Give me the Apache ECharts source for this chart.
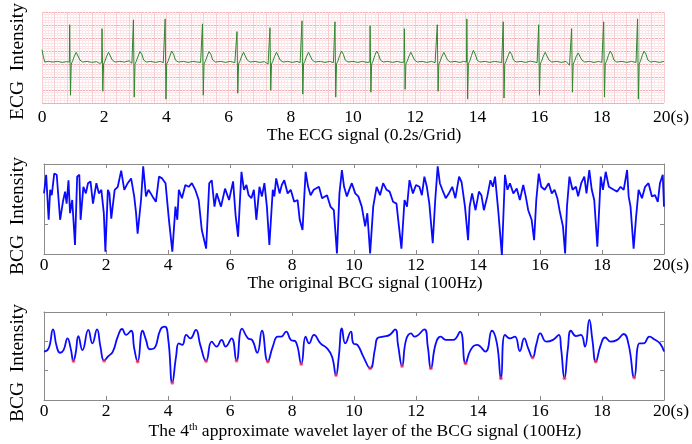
<!DOCTYPE html>
<html><head><meta charset="utf-8">
<script src="https://cdn.jsdelivr.net/npm/echarts@6/dist/echarts.min.js"></script>
<style>html,body{margin:0;padding:0;background:#fff}#c{width:692px;height:444px}</style>
</head><body><div id="c"></div>
<script>
const xTickValues = [0,2,4,6,8,10,12,14,16,18,20];
const titles = ['The ECG signal (0.2s/Grid)', 'The original BCG signal (100Hz)', 'The 4th approximate wavelet layer of the BCG signal (100Hz)'];
const yNames = ['ECG  Intensity', 'BCG  Intensity', 'BCG  Intensity'];

const ecgSignal = [
[0,4.1],[0.04,3.6],[0.09,3.15],[0.2,3.2],[0.35,3.15],[0.5,3.2],[0.65,3.12],[0.78,3.18],
[0.84,3.05],[0.88,3.15],[0.89,6.02],[0.915,0.60],[0.94,3.0],[0.98,3.2],[1.04,3.6],[1.10,3.9],[1.16,3.75],[1.22,3.3],[1.31,3.15],
[1.45,3.2],[1.6,3.12],[1.75,3.18],[1.85,3.05],
[1.88,2.9],[1.92,3.1],[1.93,5.72],[1.955,0.90],[1.98,3.0],[2.02,3.2],[2.08,3.6],[2.14,3.9],[2.20,3.75],[2.26,3.3],[2.35,3.15],
[2.5,3.2],[2.65,3.15],[2.8,3.25],
[2.89,3.05],[2.93,3.2],[2.94,6.40],[2.965,0.45],[2.99,3.0],[3.03,3.2],[3.09,3.6],[3.15,3.95],[3.21,3.75],[3.27,3.3],[3.36,3.15],
[3.5,3.2],[3.65,3.12],[3.8,3.2],[3.9,3.1],
[3.91,3.05],[3.95,3.15],[3.96,6.47],[3.985,0.30],[4.01,3.0],[4.05,3.2],[4.11,3.6],[4.17,4.0],[4.23,3.75],[4.29,3.3],[4.38,3.15],
[4.55,3.2],[4.7,3.12],[4.85,3.2],[5.0,3.15],[5.1,3.12],
[5.11,3.05],[5.15,3.15],[5.16,6.09],[5.185,0.60],[5.21,3.0],[5.25,3.2],[5.31,3.6],[5.37,3.95],[5.43,3.75],[5.49,3.3],[5.58,3.15],
[5.75,3.2],[5.9,3.12],[6.05,3.2],[6.2,3.1],
[6.22,3.05],[6.26,3.15],[6.27,5.49],[6.295,0.75],[6.32,3.0],[6.36,3.2],[6.42,3.6],[6.48,3.9],[6.54,3.75],[6.60,3.3],[6.69,3.15],
[6.85,3.2],[7.0,3.12],[7.15,3.18],[7.27,3.0],
[7.29,2.95],[7.32,3.1],[7.33,5.79],[7.355,0.98],[7.38,3.0],[7.42,3.2],[7.48,3.6],[7.54,3.9],[7.60,3.75],[7.66,3.3],[7.75,3.15],
[7.9,3.2],[8.05,3.12],[8.2,3.2],[8.3,3.1],
[8.31,3.05],[8.35,3.15],[8.36,6.32],[8.385,0.68],[8.41,3.0],[8.45,3.2],[8.51,3.6],[8.57,3.9],[8.63,3.75],[8.69,3.3],[8.78,3.15],
[8.95,3.2],[9.1,3.12],[9.25,3.2],[9.37,3.1],
[9.38,3.0],[9.41,3.15],[9.42,6.25],[9.445,0.45],[9.47,3.0],[9.51,3.2],[9.57,3.65],[9.63,4.0],[9.69,3.75],[9.75,3.3],[9.84,3.15],
[10.0,3.2],[10.15,3.12],[10.3,3.2],[10.45,3.12],
[10.50,3.05],[10.54,3.15],[10.55,5.94],[10.575,0.83],[10.60,3.0],[10.64,3.2],[10.70,3.65],[10.76,4.0],[10.82,3.75],[10.88,3.3],[10.97,3.15],
[11.12,3.2],[11.27,3.12],[11.42,3.2],[11.55,3.12],
[11.60,3.05],[11.64,3.15],[11.65,5.72],[11.675,1.05],[11.70,3.0],[11.74,3.2],[11.80,3.6],[11.86,3.9],[11.92,3.75],[11.98,3.3],[12.07,3.15],
[12.22,3.2],[12.37,3.12],[12.52,3.2],[12.64,3.1],
[12.66,3.05],[12.70,3.15],[12.71,6.02],[12.735,0.90],[12.76,3.0],[12.80,3.2],[12.86,3.6],[12.92,3.9],[12.98,3.75],[13.04,3.3],[13.13,3.15],
[13.28,3.2],[13.43,3.12],[13.56,3.2],
[13.61,3.05],[13.65,3.15],[13.66,6.47],[13.685,0.30],[13.71,3.0],[13.75,3.2],[13.81,3.65],[13.87,4.05],[13.93,3.75],[13.99,3.3],[14.08,3.15],
[14.25,3.2],[14.4,3.12],[14.55,3.2],[14.7,3.15],[14.78,3.1],
[14.79,3.05],[14.82,3.15],[14.83,6.25],[14.855,0.38],[14.88,3.0],[14.92,3.2],[14.98,3.6],[15.04,3.95],[15.10,3.75],[15.16,3.3],[15.25,3.15],
[15.4,3.2],[15.55,3.12],[15.7,3.22],[15.85,3.15],[15.92,3.1],
[15.93,3.05],[15.96,3.15],[15.97,6.02],[15.995,0.60],[16.02,3.0],[16.06,3.2],[16.12,3.6],[16.18,3.9],[16.24,3.75],[16.30,3.3],[16.39,3.15],
[16.55,3.2],[16.7,3.12],[16.85,3.2],[16.96,2.9],
[16.99,2.85],[17.02,3.05],[17.03,5.72],[17.055,0.83],[17.08,3.0],[17.12,3.2],[17.18,3.6],[17.24,3.85],[17.30,3.7],[17.36,3.3],[17.45,3.15],
[17.6,3.2],[17.75,3.12],[17.9,3.2],[18.0,3.12],
[18.02,3.05],[18.05,3.15],[18.06,6.25],[18.085,0.45],[18.11,3.0],[18.15,3.2],[18.21,3.65],[18.27,4.0],[18.33,3.75],[18.39,3.3],[18.48,3.15],
[18.65,3.2],[18.8,3.12],[18.95,3.2],[19.1,3.12],
[19.11,3.05],[19.14,3.15],[19.15,6.47],[19.175,0.30],[19.20,3.0],[19.24,3.2],[19.30,3.65],[19.36,4.0],[19.42,3.75],[19.48,3.3],[19.57,3.15],
[19.7,3.2],[19.85,3.12],[20.0,3.2]
];

const bcgSignal = [
[0,0.51],[0.07,0.82],[0.15,0.07],[0.20,0.57],[0.25,0.48],[0.33,0.84],[0.41,0.82],[0.52,0.07],[0.61,0.37],[0.68,0.54],[0.73,0.34],[0.79,0.73],[0.84,0.18],[0.91,0.40],[1.00,-0.35],[1.07,0.79],[1.14,0.82],[1.18,0.07],[1.27,0.62],[1.35,0.51],[1.42,0.68],[1.50,0.71],[1.58,0.34],[1.69,0.68],[1.77,0.51],[1.85,0.57],[1.93,0.18],[1.98,-0.46],[2.06,0.57],[2.11,0.51],[2.17,0.09],[2.28,0.57],[2.38,0.62],[2.49,0.89],[2.59,0.57],[2.70,0.68],[2.81,0.76],[2.91,0.46],[2.97,0.18],[3.02,-0.16],[3.13,0.40],[3.20,0.96],[3.29,0.46],[3.37,0.57],[3.50,0.46],[3.61,0.37],[3.71,0.79],[3.81,0.76],[3.92,0.68],[4.03,0.07],[4.14,-0.46],[4.24,0.29],[4.30,0.07],[4.35,0.57],[4.45,0.43],[4.56,0.65],[4.67,0.62],[4.77,0.68],[4.88,0.57],[4.99,0.40],[5.09,-0.10],[5.23,-0.41],[5.33,0.68],[5.41,0.73],[5.50,0.29],[5.57,0.51],[5.71,0.29],[5.84,0.59],[5.97,0.40],[6.10,0.71],[6.18,0.15],[6.26,-0.21],[6.37,0.87],[6.45,0.57],[6.53,0.65],[6.60,0.48],[6.69,0.43],[6.77,0.57],[6.85,0.07],[6.95,0.62],[7.03,0.46],[7.11,0.68],[7.19,0.29],[7.27,-0.35],[7.38,0.57],[7.43,0.46],[7.49,0.76],[7.60,0.51],[7.67,0.65],[7.75,0.73],[7.86,0.51],[7.96,0.57],[8.07,0.37],[8.18,0.40],[8.25,0.07],[8.34,-0.10],[8.39,0.40],[8.44,0.87],[8.52,0.62],[8.60,0.48],[8.70,0.57],[8.87,0.62],[8.97,0.43],[9.13,0.48],[9.24,0.29],[9.35,0.23],[9.45,-0.49],[9.53,0.51],[9.61,0.90],[9.68,0.62],[9.77,0.46],[9.86,0.59],[9.93,0.68],[10.04,0.51],[10.14,0.46],[10.25,0.29],[10.36,-0.04],[10.43,0.18],[10.52,-0.49],[10.62,0.29],[10.73,0.62],[10.84,0.48],[10.94,0.68],[11.05,0.57],[11.15,0.54],[11.26,0.37],[11.37,0.34],[11.45,-0.04],[11.53,-0.41],[11.63,0.40],[11.71,0.29],[11.79,0.73],[11.90,0.51],[12.00,0.65],[12.11,0.62],[12.19,0.48],[12.27,0.79],[12.35,0.62],[12.43,0.34],[12.54,-0.32],[12.62,0.40],[12.70,0.96],[12.77,0.68],[12.85,0.57],[12.96,0.43],[13.06,0.51],[13.17,0.62],[13.27,0.43],[13.39,0.79],[13.47,0.70],[13.58,0.29],[13.68,-0.27],[13.73,0.29],[13.81,0.51],[13.92,0.23],[14.03,0.54],[14.11,0.48],[14.19,0.23],[14.30,0.46],[14.40,0.73],[14.48,0.62],[14.55,0.79],[14.66,0.18],[14.77,-0.52],[14.87,0.82],[14.95,0.57],[15.03,0.68],[15.14,0.51],[15.25,0.59],[15.35,0.40],[15.46,0.65],[15.54,0.46],[15.62,0.23],[15.73,0.07],[15.81,-0.27],[15.88,0.40],[15.96,0.84],[16.04,0.62],[16.15,0.57],[16.28,0.68],[16.38,0.51],[16.47,0.57],[16.56,0.43],[16.63,0.23],[16.74,-0.04],[16.81,-0.49],[16.87,0.29],[16.95,0.79],[17.05,0.57],[17.16,0.62],[17.23,0.46],[17.33,0.68],[17.43,0.79],[17.50,0.51],[17.59,0.90],[17.67,0.57],[17.75,0.40],[17.85,-0.38],[17.96,0.79],[18.03,0.57],[18.12,0.87],[18.22,0.62],[18.38,0.57],[18.49,0.54],[18.60,0.62],[18.70,0.57],[18.81,0.90],[18.86,0.46],[18.92,0.29],[19.02,-0.41],[19.10,0.12],[19.18,0.57],[19.29,0.43],[19.39,0.62],[19.50,0.68],[19.61,0.46],[19.71,0.48],[19.80,0.37],[19.87,0.68],[19.96,0.82],[20.00,0.29]
];

const waveletSignal = [
[0,1.65],[0.15,1.76],[0.29,2.41],[0.41,1.82],[0.52,1.61],[0.63,1.70],[0.76,2.10],[0.86,1.76],[0.95,1.33],[1.02,1.59],[1.11,2.18],[1.24,1.70],[1.43,2.39],[1.56,1.93],[1.71,2.41],[1.82,1.82],[1.94,1.34],[2.06,1.48],[2.22,1.65],[2.38,2.16],[2.52,2.42],[2.65,2.22],[2.81,2.36],[2.91,1.76],[3.02,1.31],[3.18,2.36],[3.29,2.05],[3.41,1.73],[3.55,1.76],[3.76,2.41],[3.90,2.50],[4.01,2.05],[4.14,0.59],[4.26,1.48],[4.35,1.93],[4.46,1.88],[4.59,2.22],[4.72,2.10],[4.90,2.39],[5.04,1.88],[5.23,1.33],[5.41,1.99],[5.57,1.82],[5.73,2.05],[5.86,1.82],[6.05,2.10],[6.21,1.34],[6.39,2.43],[6.58,2.10],[6.71,2.05],[6.88,1.61],[7.03,2.36],[7.22,1.31],[7.38,1.82],[7.54,2.16],[7.65,2.16],[7.81,2.33],[7.96,2.05],[8.12,1.99],[8.30,1.23],[8.44,2.16],[8.55,1.93],[8.71,2.22],[8.92,1.93],[9.13,1.76],[9.29,1.48],[9.42,0.85],[9.51,1.48],[9.61,2.44],[9.72,1.93],[9.90,2.33],[9.98,1.93],[10.11,1.88],[10.30,1.48],[10.52,1.08],[10.68,1.76],[10.75,2.10],[10.94,2.16],[11.15,2.22],[11.33,2.41],[11.42,1.88],[11.55,1.16],[11.68,2.05],[11.84,2.27],[11.95,2.16],[12.27,2.41],[12.38,1.82],[12.48,1.08],[12.64,1.93],[12.80,2.16],[12.96,2.05],[13.20,2.05],[13.42,2.33],[13.60,1.25],[13.76,1.70],[13.97,1.88],[14.24,1.65],[14.45,2.36],[14.61,1.93],[14.74,0.74],[14.87,2.22],[15.03,2.10],[15.19,2.16],[15.35,1.67],[15.49,2.10],[15.62,1.76],[15.76,1.45],[15.89,1.93],[16.01,2.27],[16.20,1.99],[16.42,2.05],[16.61,2.22],[16.68,1.76],[16.79,0.74],[16.90,1.76],[17.00,2.36],[17.16,2.18],[17.32,2.22],[17.45,1.82],[17.59,2.73],[17.69,2.05],[17.80,1.31],[17.96,1.88],[18.10,2.13],[18.28,1.99],[18.49,2.05],[18.70,2.25],[18.86,1.88],[19.04,0.77],[19.21,1.93],[19.34,1.93],[19.53,2.16],[19.71,2.05],[19.87,1.93],[20.00,1.65]
];

const waveletMinima = [
[0.95,1.33],[1.94,1.34],[3.02,1.31],[4.14,0.59],[5.23,1.33],[6.21,1.34],[7.22,1.31],[8.30,1.23],[9.42,0.85],[10.52,1.08],[11.55,1.16],[12.48,1.08],[13.60,1.25],[14.74,0.74],[15.76,1.45],[16.79,0.74],[17.80,1.31],[19.04,0.77]
];

const FONT = "'Liberation Serif','Times New Roman',serif";
const GRAY = '#8a8a8a';
const labelFmt = v => (v === 20 ? '{s|20(s)}' : String(v));
const labelStyle = (margin) => ({
  show: true, margin: margin, fontFamily: FONT, fontSize: 17.5, color: '#000',
  customValues: xTickValues, formatter: labelFmt,
  rich: { s: { fontFamily: FONT, fontSize: 17.5, color: '#000', padding: [0,0,0,14] } }
});
const nameStyle = { fontFamily: FONT, fontSize: 17.5, color: '#000', padding: [0,0,0,22] };

function boxX(grid, pos, withLabel, margin, name, gap, nameRich) {
  const ax = {
    type: 'value', gridIndex: grid, position: pos, min: 0, max: 20, interval: 2,
    axisLine: { show: true, onZero: false, lineStyle: { color: GRAY, width: 1 } },
    axisTick: { show: true, inside: true, length: 4, lineStyle: { color: GRAY } },
    axisLabel: withLabel ? labelStyle(margin) : { show: false },
    splitLine: { show: false }
  };
  if (name) {
    ax.name = name; ax.nameLocation = 'middle'; ax.nameGap = gap;
    ax.nameTextStyle = Object.assign({}, nameStyle, nameRich ? { rich: nameRich } : {});
  }
  return ax;
}
function boxY(grid, pos, min, max, ticks, name) {
  const ax = {
    type: 'value', gridIndex: grid, position: pos, min: min, max: max,
    axisLine: { show: true, onZero: false, lineStyle: { color: GRAY, width: 1 } },
    axisTick: { show: true, inside: true, length: 4, customValues: ticks, lineStyle: { color: GRAY } },
    axisLabel: { show: false }, splitLine: { show: false }
  };
  if (name) {
    ax.name = name; ax.nameLocation = 'middle'; ax.nameGap = 16;
    ax.nameTextStyle = { fontFamily: FONT, fontSize: 19.5, color: '#000', padding: [0, 14, 0, 0] };
  }
  return ax;
}

const supRich = {
  n: { fontFamily: FONT, fontSize: 17.5, color: '#000' },
  sup: { fontFamily: FONT, fontSize: 11, color: '#000', verticalAlign: 'top' }
};

const option = {
  animation: false,
  backgroundColor: '#fff',
  grid: [
    { left: 36, right: 27, top: 10, height: 93 },
    { left: 37, right: 28, top: 164, height: 90 },
    { left: 37, right: 28, top: 312, height: 88 }
  ],
  xAxis: [
    { type: 'value', gridIndex: 0, position: 'bottom', min: 0, max: 20, interval: 2,
      axisLine: { show: false }, axisTick: { show: false }, splitLine: { show: false },
      axisLabel: labelStyle(5),
      name: titles[0], nameLocation: 'middle', nameGap: 19, nameTextStyle: nameStyle },
    { type: 'value', gridIndex: 0, position: 'top', min: 0, max: 20, interval: 0.4,
      axisLine: { show: false }, axisTick: { show: false }, axisLabel: { show: false },
      splitLine: { show: true, lineStyle: { color: '#f8cdd1', width: 1 } },
      minorTick: { show: false, splitNumber: 4 },
      minorSplitLine: { show: true, lineStyle: { color: '#fde9eb', width: 1 } } },
    boxX(1, 'bottom', true, 2, titles[1], 18),
    boxX(1, 'top', false),
    boxX(2, 'bottom', true, 2, '{n|The 4}{sup|th}{n| approximate wavelet layer of the BCG signal (100Hz)}', 22, supRich),
    boxX(2, 'top', false)
  ],
  yAxis: [
    { type: 'value', gridIndex: 0, min: 0, max: 7, interval: 1,
      axisLine: { show: false }, axisTick: { show: false }, axisLabel: { show: false },
      splitLine: { show: true, lineStyle: { color: '#f4aeb5', width: 1 } },
      minorTick: { show: false, splitNumber: 5 },
      minorSplitLine: { show: true, lineStyle: { color: '#fce4e6', width: 1 } },
      name: yNames[0], nameLocation: 'middle', nameGap: 14,
      nameTextStyle: { fontFamily: FONT, fontSize: 19.5, color: '#000', padding: [0, 8, 0, 0] } },
    boxY(1, 'left', -0.5, 1, [0, 1], yNames[1]),
    boxY(1, 'right', -0.5, 1, [0, 1]),
    boxY(2, 'left', 0, 3, [0, 1, 2, 3], yNames[2]),
    boxY(2, 'right', 0, 3, [0, 1, 2, 3])
  ],
  series: [
    { type: 'line', xAxisIndex: 0, yAxisIndex: 0, data: ecgSignal, showSymbol: false,
      lineStyle: { color: '#2f862f', width: 1 }, z: 5 },
    { type: 'line', xAxisIndex: 2, yAxisIndex: 1, data: bcgSignal, showSymbol: false,
      lineStyle: { color: '#0a0aff', width: 1.8 }, z: 5 },
    { type: 'line', xAxisIndex: 4, yAxisIndex: 3, data: waveletSignal, showSymbol: false,
      smooth: 0.5,
      lineStyle: { color: '#0a0aff', width: 1.8 }, z: 5 },
    { type: 'scatter', xAxisIndex: 4, yAxisIndex: 3, data: waveletMinima, symbol: 'circle', symbolSize: 4,
      itemStyle: { color: 'rgba(255,50,70,0.85)' }, z: 6 }
  ]
};
const chart = echarts.init(document.getElementById('c'), null, { renderer: 'canvas' });
chart.setOption(option);
</script>
</body></html>
